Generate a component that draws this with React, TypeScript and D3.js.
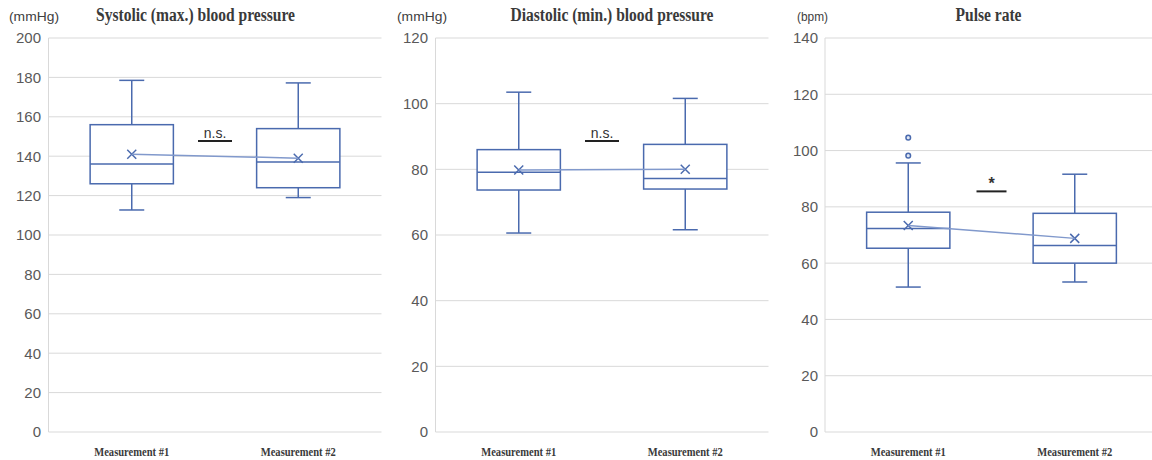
import React from "react";
import * as d3 from "d3";

const categories = ["Measurement #1", "Measurement #2"];

const titles = ["Systolic (max.) blood pressure", "Diastolic (min.) blood pressure", "Pulse rate"];
const units = ["(mmHg)", "(mmHg)", "(bpm)"];
const yMax = [200, 120, 140];
const tickStep = [20, 20, 20];

// [whiskerLow, q1, median, q3, whiskerHigh, mean]
const systolic = [
  [112.7, 126, 136, 156, 178.5, 141],
  [119, 124, 137, 154, 177.2, 139],
];
const diastolic = [
  [60.6, 73.7, 79.1, 86.0, 103.5, 79.8],
  [61.6, 74.0, 77.2, 87.6, 101.6, 80.0],
];
const pulse = [
  [51.5, 65.3, 72.3, 78.1, 95.6, 73.4],
  [53.3, 60.0, 66.3, 77.7, 91.6, 68.8],
];
const outliers = [[[], []], [[], []], [[98.2, 104.6], []]];
const significance = ["n.s.", "n.s.", "*"];
const sigLevel = [147.7, 88.6, 85.5];

const panelData = [systolic, diastolic, pulse];

const W = 1152;
const H = 460;
const TOP = 38;
const BOTTOM = 432;
const panels = [
  { left: 48.5, right: 381.5, tickX: 41, unitX: 9, titleW: 199, unitW: 50, titleC: 195.5 },
  { left: 435.5, right: 768.5, tickX: 428, unitX: 397, titleW: 203, unitW: 50, titleC: 612 },
  { left: 825, right: 1158, tickX: 818, unitX: 797, titleW: 66, unitW: 31, titleC: 988.5 },
];

const BLUE = "#4A6AAE";
const MEANLINE = "#8199cc";
const GRID = "#d9d9d9";
const TICKCOL = "#595959";

function Panel({ idx }: { idx: number }) {
  const p = panels[idx];
  const data = panelData[idx];
  const y = d3.scaleLinear().domain([0, yMax[idx]]).range([BOTTOM, TOP]);
  const x = d3.scaleBand<string>().domain(categories).range([p.left, p.right]).paddingInner(0).paddingOuter(0);
  const ticks = d3.range(0, yMax[idx] + 0.001, tickStep[idx]);
  const boxW = x.bandwidth() * 0.5;
  const capW = 25;
  const means = data.map((d, i) => [x(categories[i])! + x.bandwidth() / 2, y(d[5])] as [number, number]);
  const line = d3.line();
  const midX = (means[0][0] + means[1][0]) / 2;
  const sigY = y(sigLevel[idx]);
  const isStar = significance[idx] === "*";
  const ulHalf = isStar ? 15 : 17;
  return (
    <g>
      {ticks.map((t) => (
        <g key={t}>
          <line x1={p.left} x2={p.right} y1={y(t)} y2={y(t)} stroke={GRID} strokeWidth={1} />
          <text
            x={p.tickX}
            y={y(t)}
            dy="0.36em"
            textAnchor="end"
            fontFamily="Liberation Sans, Arial, sans-serif"
            fontSize={15}
            fill={TICKCOL}
          >
            {t}
          </text>
        </g>
      ))}
      <line x1={p.left} x2={p.left} y1={TOP} y2={BOTTOM} stroke={GRID} strokeWidth={1} />
      <text
        x={p.unitX}
        y={21}
        fontFamily="Liberation Sans, Arial, sans-serif"
        fontSize={idx === 2 ? 12 : 13.5}
        fill="#404040"
        textLength={p.unitW}
        lengthAdjust="spacingAndGlyphs"
      >
        {units[idx]}
      </text>
      <text
        x={p.titleC - p.titleW / 2}
        y={21}
        fontFamily="Liberation Serif, Times New Roman, serif"
        fontWeight="bold"
        fontSize={18}
        fill="#3a3a3a"
        textLength={p.titleW}
        lengthAdjust="spacingAndGlyphs"
      >
        {titles[idx]}
      </text>
      {categories.map((c, i) => {
        const cx = x(c)! + x.bandwidth() / 2;
        return (
          <text
            key={c}
            x={cx - 37.5}
            y={455.5}
            fontFamily="Liberation Serif, Times New Roman, serif"
            fontWeight="bold"
            fontSize={13.5}
            fill="#3a3a3a"
            textLength={75}
            lengthAdjust="spacingAndGlyphs"
          >
            {c}
          </text>
        );
      })}
      {data.map((d, i) => {
        const cx = x(categories[i])! + x.bandwidth() / 2;
        const [lo, q1, med, q3, hi, mean] = d;
        const my = y(mean);
        const s = 4.5;
        return (
          <g key={i} stroke={BLUE} strokeWidth={1.5} fill="none">
            <line x1={cx} x2={cx} y1={y(hi)} y2={y(q3)} />
            <line x1={cx} x2={cx} y1={y(q1)} y2={y(lo)} />
            <line x1={cx - capW / 2} x2={cx + capW / 2} y1={y(hi)} y2={y(hi)} />
            <line x1={cx - capW / 2} x2={cx + capW / 2} y1={y(lo)} y2={y(lo)} />
            <rect x={cx - boxW / 2} y={y(q3)} width={boxW} height={y(q1) - y(q3)} fill="white" />
            <line x1={cx - boxW / 2} x2={cx + boxW / 2} y1={y(med)} y2={y(med)} />
            <line x1={cx - s} x2={cx + s} y1={my - s} y2={my + s} />
            <line x1={cx - s} x2={cx + s} y1={my + s} y2={my - s} />
            {outliers[idx][i].map((o, k) => (
              <circle key={k} cx={cx} cy={y(o)} r={2.3} fill="#dfe6f3" strokeWidth={1.5} />
            ))}
          </g>
        );
      })}
      <path d={line(means) || ""} stroke={MEANLINE} strokeWidth={1.5} fill="none" />
      <text
        x={midX}
        y={isStar ? sigY - 2 : sigY - 3}
        textAnchor="middle"
        fontFamily="Liberation Sans, Arial, sans-serif"
        fontWeight={isStar ? "bold" : "normal"}
        fontSize={isStar ? 16 : 14}
        fill="#333"
      >
        {significance[idx]}
      </text>
      <line x1={midX - ulHalf} x2={midX + ulHalf} y1={sigY} y2={sigY} stroke="#222" strokeWidth={2} />
    </g>
  );
}

export default function App() {
  return (
    <svg
      width={W}
      height={H}
      viewBox={`0 0 ${W} ${H}`}
      style={{ position: "absolute", left: 0, top: 0, background: "white" }}
    >
      <rect x={0} y={0} width={W} height={H} fill="white" />
      {[0, 1, 2].map((i) => (
        <Panel key={i} idx={i} />
      ))}
    </svg>
  );
}
